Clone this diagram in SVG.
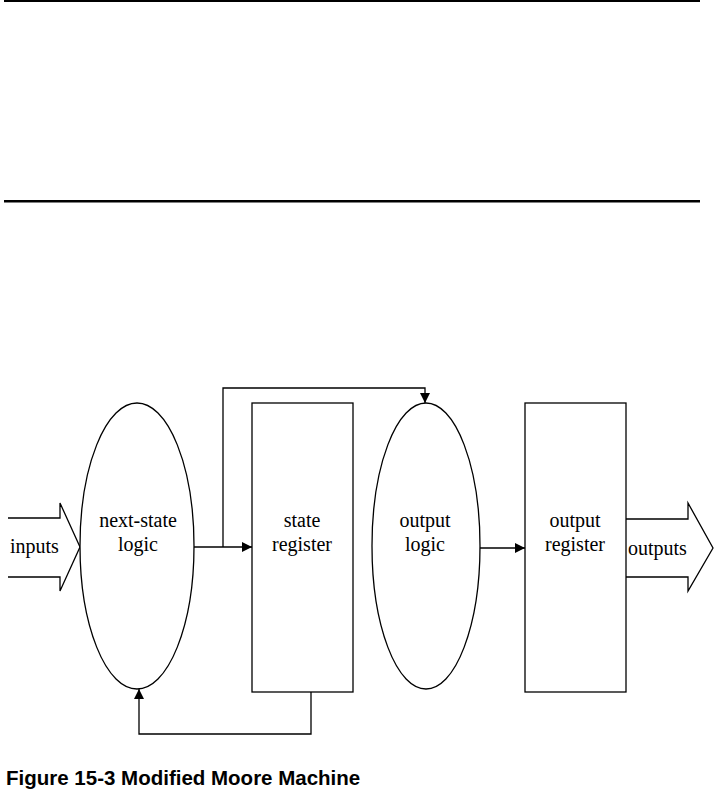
<svg xmlns="http://www.w3.org/2000/svg" width="717" height="810" viewBox="0 0 717 810">
<style>
.ln{stroke:#000;stroke-width:1.3;fill:none}
.node{stroke:#000;stroke-width:1.3;fill:#fff}
.lbl{font-family:"Liberation Serif","Times New Roman",serif;font-size:20px;fill:#000;text-anchor:middle}
.io{font-family:"Liberation Serif","Times New Roman",serif;font-size:20px;fill:#000}
.cap{font-family:"Liberation Sans",Arial,sans-serif;font-size:20.5px;font-weight:bold;fill:#000}
</style>
<defs>
<marker id="ah" viewBox="0 0 10 10" refX="10" refY="5" markerWidth="10" markerHeight="10" markerUnits="userSpaceOnUse" orient="auto">
<path d="M0,0 L10,5 L0,10 z" fill="#000"/>
</marker>
</defs>
<rect x="4" y="0" width="696" height="2" fill="#000"/>
<rect x="4" y="200" width="696" height="2.5" fill="#000"/>

<g id="inputs">
<path class="ln" d="M8,518 L60,518 L60,503 L80,547 L60,591 L60,577 L8,577"/>
<text class="io" x="10" y="553">inputs</text>
</g>
<g id="next-state-logic">
<ellipse class="node" cx="137" cy="546" rx="57" ry="143"/>
<text class="lbl" x="138" y="527">next-state</text>
<text class="lbl" x="138" y="551">logic</text>
</g>
<g id="state-register">
<rect class="node" x="252" y="403" width="101" height="289"/>
<text class="lbl" x="302" y="527">state</text>
<text class="lbl" x="302" y="551">register</text>
</g>
<g id="output-logic">
<ellipse class="node" cx="426" cy="546" rx="54" ry="143"/>
<text class="lbl" x="425" y="527">output</text>
<text class="lbl" x="425" y="551">logic</text>
</g>
<g id="output-register">
<rect class="node" x="525" y="403" width="101" height="289"/>
<text class="lbl" x="575" y="527">output</text>
<text class="lbl" x="575" y="551">register</text>
</g>
<g id="outputs">
<path class="ln" d="M626,519 L688,519 L688,503 L713,548 L688,591 L688,577 L626,577"/>
<text class="io" x="628" y="555">outputs</text>
</g>

<g id="connectors">
<line class="ln" x1="194" y1="547" x2="252" y2="547" stroke-width="2" marker-end="url(#ah)"/>
<polyline class="ln" points="223,547 223,388 425,388 425,403" marker-end="url(#ah)"/>
<line class="ln" x1="480" y1="548" x2="525" y2="548" stroke-width="2" marker-end="url(#ah)"/>
<polyline class="ln" points="311,692 311,734 139,734 139,689" marker-end="url(#ah)"/>
</g>

<text class="cap" x="6" y="785">Figure 15-3 Modified Moore Machine</text>
</svg>
